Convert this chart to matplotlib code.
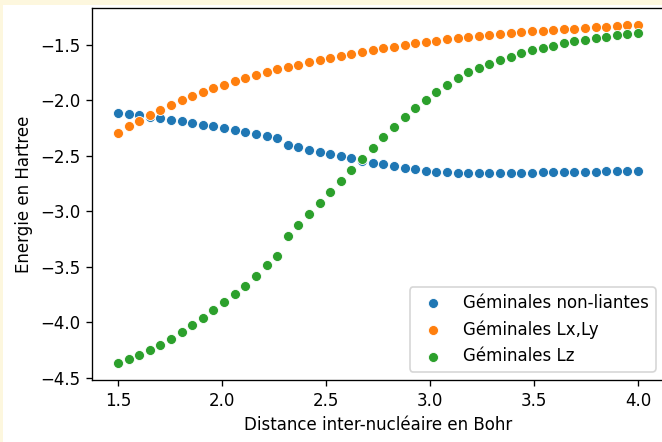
import numpy as np
import matplotlib
matplotlib.use('Agg')
import matplotlib.pyplot as plt
from matplotlib.patches import Rectangle

# Distances inter-nucléaires (Bohr)
distances = [1.500, 1.551, 1.602, 1.653, 1.704, 1.755, 1.806, 1.857, 1.908, 1.959,
             2.010, 2.061, 2.112, 2.163, 2.214, 2.265, 2.316, 2.367, 2.418, 2.469,
             2.520, 2.571, 2.622, 2.673, 2.724, 2.776, 2.827, 2.878, 2.929, 2.980,
             3.031, 3.082, 3.133, 3.184, 3.235, 3.286, 3.337, 3.388, 3.439, 3.490,
             3.541, 3.592, 3.643, 3.694, 3.745, 3.796, 3.847, 3.898, 3.949, 4.000]

# Energies des géminales (Hartree)
e_non_liantes = [-2.113, -2.128, -2.137, -2.152, -2.164, -2.176, -2.191, -2.206, -2.221, -2.233,
                 -2.251, -2.266, -2.284, -2.302, -2.320, -2.341, -2.401, -2.422, -2.446, -2.467,
                 -2.485, -2.503, -2.523, -2.544, -2.562, -2.574, -2.592, -2.610, -2.622, -2.634,
                 -2.643, -2.649, -2.652, -2.655, -2.655, -2.655, -2.655, -2.655, -2.652, -2.652,
                 -2.649, -2.649, -2.646, -2.646, -2.643, -2.643, -2.640, -2.640, -2.637, -2.637]

e_lx_ly = [-2.293, -2.236, -2.185, -2.137, -2.090, -2.045, -2.003, -1.964, -1.931, -1.895,
           -1.865, -1.832, -1.802, -1.775, -1.748, -1.724, -1.700, -1.680, -1.655, -1.635,
           -1.617, -1.599, -1.581, -1.563, -1.545, -1.533, -1.521, -1.506, -1.488, -1.476,
           -1.464, -1.452, -1.443, -1.434, -1.422, -1.410, -1.401, -1.392, -1.386, -1.380,
           -1.374, -1.368, -1.362, -1.356, -1.350, -1.344, -1.338, -1.332, -1.326, -1.323]

e_lz = [-4.367, -4.334, -4.298, -4.250, -4.202, -4.148, -4.088, -4.022, -3.960, -3.891,
        -3.819, -3.747, -3.669, -3.585, -3.487, -3.400, -3.220, -3.125, -3.026, -2.927,
        -2.826, -2.727, -2.628, -2.532, -2.427, -2.332, -2.242, -2.155, -2.075, -1.997,
        -1.928, -1.862, -1.805, -1.751, -1.712, -1.674, -1.638, -1.608, -1.578, -1.551,
        -1.530, -1.509, -1.488, -1.470, -1.455, -1.440, -1.428, -1.416, -1.404, -1.395]

series = [(e_non_liantes, 'Géminales non-liantes', 'tab:blue'),
          (e_lx_ly, 'Géminales Lx,Ly', 'tab:orange'),
          (e_lz, 'Géminales Lz', 'tab:green')]

fig = plt.figure(figsize=(662 / 120, 442 / 120), dpi=120, facecolor='#fdf7de')
# fond blanc de la figure, sous les axes
fig.patches.append(Rectangle((3 / 662, 0), 1, 1 - 4.5 / 442, transform=fig.transFigure,
                             facecolor='white', edgecolor='none', zorder=-10))

ax = fig.add_axes([92 / 662, 62 / 442, 572 / 662, 372 / 442])
for energies, label, color in series:
    ax.scatter(distances, energies, s=36, color=color, edgecolors='white',
               linewidths=0.5, label=label)

ax.set_xlabel('Distance inter-nucléaire en Bohr')
ax.set_ylabel('Energie en Hartree')
ax.legend(loc='lower right')

fig.savefig('out.png', dpi=120, facecolor=fig.get_facecolor())
